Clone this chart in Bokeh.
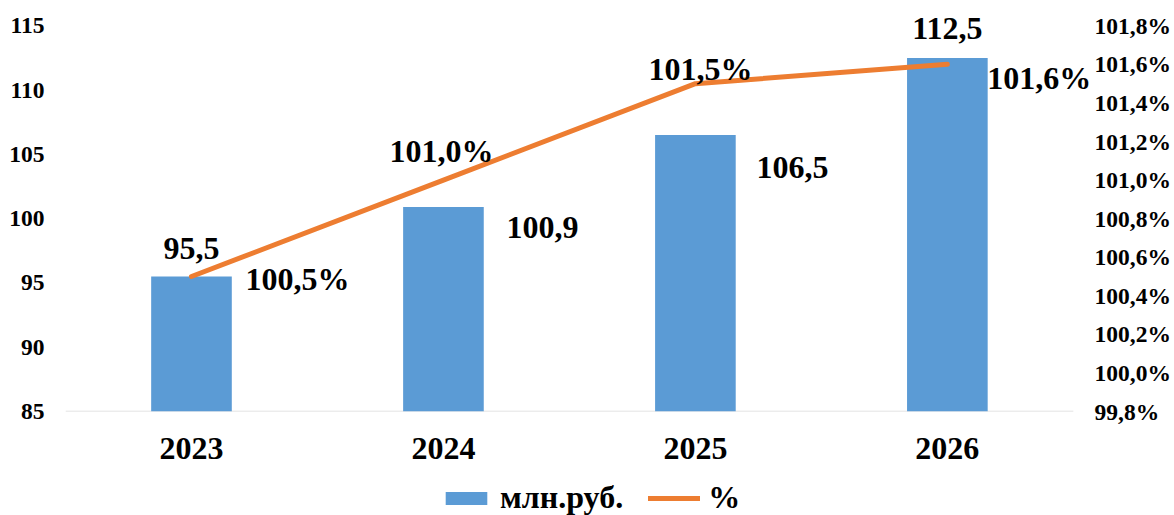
from bokeh.plotting import figure
from bokeh.layouts import column
from bokeh.models import (ColumnDataSource, Range1d, LinearAxis, FixedTicker,
                          CustomJSTickFormatter, Legend, LegendItem)
from bokeh.core.properties import value, field
from bokeh.embed import file_html
from bokeh.resources import INLINE

# ---- data ----
years = ["2023", "2024", "2025", "2026"]
mln_rub = [95.5, 100.9, 106.5, 112.5]
pct = [100.5, 101.0, 101.5, 101.6]
left_ticks = [85, 90, 95, 100, 105, 110, 115]
right_ticks = [99.8, 100.0, 100.2, 100.4, 100.6, 100.8, 101.0, 101.2, 101.4, 101.6, 101.8]
series_names = ["млн.руб.", "%"]

# ---- label placement (screen offsets, px) ----
bar_dx = [0, 63, 61, 0]
bar_dy = [-28, 20, 32, -29]
bar_align = ["center", "left", "left", "center"]
pct_dx = [54, -2, 5, 40]
pct_dy = [2, -29, -15, 14]
pct_align = ["left", "center", "center", "left"]

FONT = "Liberation Serif"
BLUE = "#5B9BD5"
ORANGE = "#ED7D31"
W = 1174
MAIN_H = 480
LEG_H = 35
BIG = "32px"
TICK = "23.5px"

xs = list(range(len(years)))
x_start = -0.5
x_end = len(years) - 0.5 + 0.08          # head-room for the right-hand labels
y_top_pad = 1.5                          # head-room above the last tick for labels
left_range = (left_ticks[0], left_ticks[-1] + y_top_pad)
right_span = right_ticks[-1] - right_ticks[0]
left_span = left_ticks[-1] - left_ticks[0]
right_range = (right_ticks[0], right_ticks[-1] + y_top_pad * right_span / left_span)

def fmt(v, suffix=""):
    return f"{v:.1f}".replace(".", ",") + suffix

bar_src = ColumnDataSource(dict(x=xs, top=mln_rub, text=[fmt(v) for v in mln_rub],
                                dx=bar_dx, dy=bar_dy, align=bar_align))
pct_src = ColumnDataSource(dict(x=xs, y=pct, text=[fmt(v, "%") for v in pct],
                                dx=pct_dx, dy=pct_dy, align=pct_align))

p = figure(width=W, height=MAIN_H, output_backend="svg", toolbar_location=None,
           x_range=Range1d(x_start, x_end),
           y_range=Range1d(*left_range),
           min_border_left=65, min_border_right=81, min_border_top=6,
           min_border_bottom=MAIN_H - 411)
p.extra_y_ranges = {"pct": Range1d(*right_range)}
p.outline_line_color = None
p.xgrid.visible = False
p.ygrid.visible = False
p.background_fill_color = "white"
p.border_fill_color = "white"

# category baseline
p.segment(x0=[x_start], x1=[len(years) - 0.5], y0=[left_ticks[0]], y1=[left_ticks[0]],
          line_color="#d9d9d9", line_width=1.5)

bar_style = dict(fill_color=BLUE, line_color=None)
line_style = dict(line_color=ORANGE, line_width=5, line_cap="round", line_join="round")

p.vbar(x="x", top="top", bottom=left_ticks[0], width=0.32, source=bar_src, **bar_style)
p.line(x="x", y="y", source=pct_src, y_range_name="pct", **line_style)

label_style = dict(text_baseline="middle", text_font=value(FONT), text_font_style="bold",
                   text_font_size=value(BIG), text_color="black")
p.text(x="x", y="top", text="text", source=bar_src,
       x_offset=field("dx"), y_offset=field("dy"), text_align=field("align"), **label_style)
p.text(x="x", y="y", text="text", source=pct_src, y_range_name="pct",
       x_offset=field("dx"), y_offset=field("dy"), text_align=field("align"), **label_style)

def style_axis(ax, size, standoff):
    ax.axis_line_color = None
    ax.major_tick_line_color = None
    ax.minor_tick_line_color = None
    ax.major_tick_out = 0
    ax.major_tick_in = 0
    ax.minor_tick_out = 0
    ax.minor_tick_in = 0
    ax.major_label_standoff = standoff
    ax.major_label_text_font = FONT
    ax.major_label_text_font_style = "bold"
    ax.major_label_text_font_size = size
    ax.major_label_text_color = "black"

xa = p.xaxis[0]
xa.ticker = FixedTicker(ticks=xs)
xa.major_label_overrides = {i: y for i, y in enumerate(years)}
style_axis(xa, BIG, 26)

ya = p.yaxis[0]
ya.ticker = FixedTicker(ticks=left_ticks)
style_axis(ya, TICK, 21)

ra = LinearAxis(y_range_name="pct", ticker=FixedTicker(ticks=right_ticks),
                formatter=CustomJSTickFormatter(code="return tick.toFixed(1).replace('.', ',') + '%';"))
style_axis(ra, TICK, 1)
p.add_layout(ra, "right")

# ---- legend strip (own small figure below the chart) ----
lg = figure(width=W, height=LEG_H, output_backend="svg", toolbar_location=None,
            x_range=Range1d(0, 1), y_range=Range1d(0, 1),
            x_axis_location=None, y_axis_location=None,
            min_border_left=0, min_border_right=0, min_border_top=0, min_border_bottom=0)
lg.outline_line_color = None
lg.xgrid.visible = False
lg.ygrid.visible = False
# legend-only stand-ins, kept outside the visible range of the strip
lg_bar = lg.vbar(x=[-5], top=[0], width=0.1, **bar_style)
lg_line = lg.line(x=[-5, -4], y=[0, 0], **line_style)
legend = Legend(items=[LegendItem(label=series_names[0], renderers=[lg_bar]),
                       LegendItem(label=series_names[1], renderers=[lg_line])],
                location=(375, -1), orientation="horizontal",
                glyph_width=52, glyph_height=16, label_standoff=8, spacing=25,
                padding=0, margin=0, border_line_color=None, background_fill_alpha=0,
                label_text_font=FONT, label_text_font_style="bold",
                label_text_font_size=BIG, label_text_color="black")
lg.add_layout(legend, "center")

open("out.html", "w").write(file_html(column(p, lg), INLINE))
